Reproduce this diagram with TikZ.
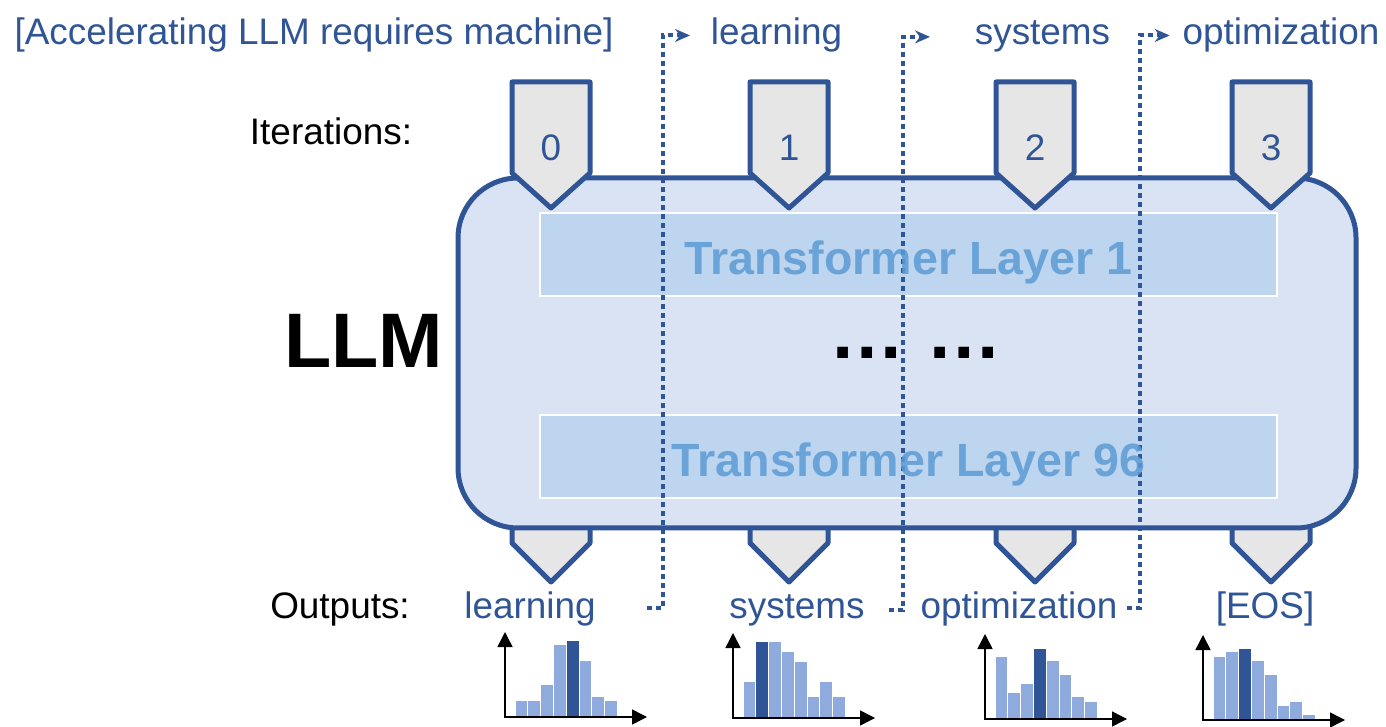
\documentclass[tikz,border=0pt]{standalone}
\usepackage{fontspec}
\setmainfont{Liberation Sans}
\usetikzlibrary{arrows.meta}

\definecolor{darkblue}{HTML}{2F5597}
\definecolor{boxfill}{HTML}{DAE3F3}
\definecolor{layerfill}{HTML}{BDD5EE}
\definecolor{layertext}{HTML}{5B9BD5}
\definecolor{tagfill}{HTML}{E7E6E6}
\definecolor{barlight}{HTML}{8FAADC}

\begin{document}
\begin{tikzpicture}[
    word/.style={inner sep=0pt, anchor=base, font=\fontsize{21}{25}\selectfont},
    blueword/.style={word, text=darkblue},
    tag/.style={draw=darkblue, fill=tagfill, line width=0.1cm, line join=round},
    layer/.style={fill=layerfill, draw=white, line width=0.04cm, minimum width=14.74cm, minimum height=1.66cm},
    layername/.style={inner sep=0pt, anchor=base, text=layertext, text opacity=0.85, font=\fontsize{26.5}{30}\selectfont\bfseries},
    dotline/.style={darkblue, line width=0.08cm, dash pattern=on 0.1cm off 0.08cm, -{Stealth[length=0.3cm, width=0.26cm, inset=0.1cm]}},
    axis/.style={black, line width=0.03cm, {Triangle[length=0.3cm, width=0.3cm]}-{Triangle[length=0.3cm, width=0.3cm]}},
    bar/.style={draw=white, line width=0.02cm},
]
    \useasboundingbox (0,0) rectangle (27.72,14.52);

    % Output tags (under the model)
    \foreach \x in {11.02,15.78,20.7,25.42}
        \draw[tag] (\x-0.78,4.22) -- (\x-0.78,3.66) -- (\x,2.88) -- (\x+0.78,3.66) -- (\x+0.78,4.22);

    % Model box and layers
    \node[draw=darkblue, fill=boxfill, line width=0.1cm, rounded corners=1.2cm,
        minimum width=17.96cm, minimum height=7cm] (llm) at (18.14,7.46) {};
    \node[layer] (layer1) at (18.17,9.43) {};
    \node[layer] (layer96) at (18.17,5.38) {};
    \node[inner sep=0pt, anchor=base, font=\fontsize{44}{50}\selectfont\bfseries] (llmlabel) at (7.27,7.16) {LLM};
    \node[inner sep=0pt, anchor=base, font=\fontsize{43}{50}\selectfont\bfseries] (gap) at (18.32,7.34) {… …};

    % Iteration tags
    \foreach \x/\n in {11.02/0,15.78/1,20.7/2,25.42/3}{
        \draw[tag] (\x-0.78,12.88) -- (\x-0.78,11.06) -- (\x,10.36) -- (\x+0.78,11.06) -- (\x+0.78,12.88) -- cycle;
        \node[blueword] (it\n) at (\x,11.3) {\n};
    }
    \node[word] (iterlabel) at (6.62,11.62) {Iterations:};

    % Prompt and generated tokens
    \node[blueword] (prompt) at (6.28,13.62) {[Accelerating LLM requires machine]};
    \node[blueword] (w1) at (15.53,13.62) {learning};
    \node[blueword] (w2) at (20.85,13.62) {systems};
    \node[blueword] (w3) at (25.62,13.62) {optimization};

    \node[word] (outlabel) at (6.8,2.16) {Outputs:};
    \node[blueword] (out0) at (10.6,2.16) {learning};
    \node[blueword] (out1) at (15.94,2.16) {systems};
    \node[blueword] (out2) at (20.38,2.16) {optimization};
    \node[blueword] (out3) at (25.3,2.16) {[EOS]};

    % Feed each output back as next input
    \draw[dotline] ([xshift=1.02cm]out0.east) -| ([xshift=-0.95cm]w1.west) -- ([xshift=-0.41cm]w1.west);
    \draw[dotline] ([xshift=0.48cm]out1.east) -| ([xshift=-1.43cm]w2.west) -- ([xshift=-0.89cm]w2.west);
    \draw[dotline] ([xshift=0.19cm]out2.east) -| ([xshift=-0.85cm]w3.west) -- ([xshift=-0.25cm]w3.west);

    \node[layername] (name1) at ([yshift=-0.4cm]layer1.center) {Transformer Layer 1};
    \node[layername] (name96) at ([yshift=-0.39cm]layer96.center) {Transformer Layer 96};

    % Token distributions
    \foreach \ox/\oy/\dk/\hs in {10.1/0.18/4/{16,16,32,72,76,56,20,16},
                                 14.66/0.16/1/{36,76,76,66,56,21,36,21},
                                 19.7/0.14/3/{62,26,35,70,58,44,22,17},
                                 24.06/0.12/2/{63,68,71,59,45,14,18,5}}{
        \foreach \h [count=\i from 0] in \hs {
            \def\barcol{barlight}
            \ifnum\i=\dk \def\barcol{darkblue}\fi
            \draw[bar, fill=\barcol] ({\ox+0.2+0.256*\i},{\oy+0.02}) rectangle ++(0.256,\h/50);
        }
        \draw[axis] (\ox,\oy+1.7) -- (\ox,\oy) -- (\ox+2.84,\oy);
    }
\end{tikzpicture}
\end{document}
